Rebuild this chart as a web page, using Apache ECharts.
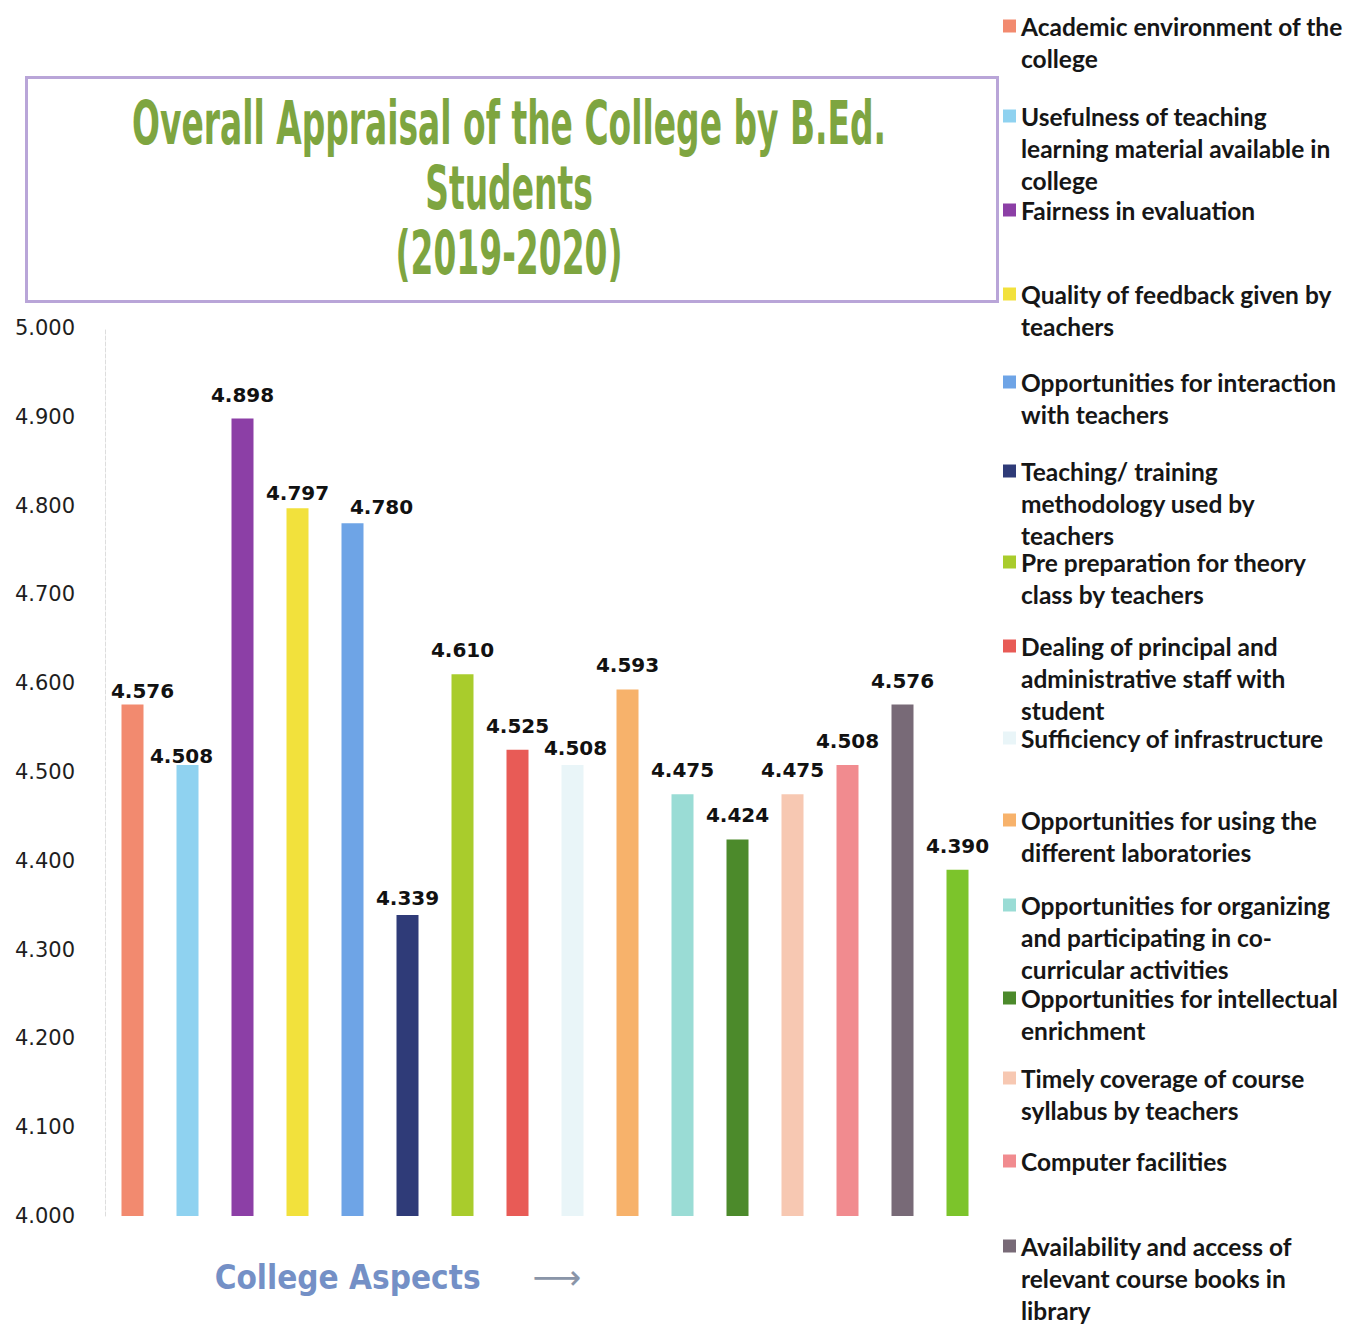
<!DOCTYPE html>
<html>
<head>
<meta charset="utf-8">
<script src="https://cdn.jsdelivr.net/npm/echarts@6/dist/echarts.min.js"></script>
<style>html,body{margin:0;padding:0;background:#fff}#c{width:1371px;height:1325px}</style>
</head>
<body>
<div id="c"></div>
<script>
// ---- data ----
var categories = [
  "Academic environment of the college",
  "Usefulness of teaching learning material available in college",
  "Fairness in evaluation",
  "Quality of feedback given by teachers",
  "Opportunities for interaction with teachers",
  "Teaching/ training methodology used by teachers",
  "Pre preparation for theory class by teachers",
  "Dealing of principal and administrative staff with student",
  "Sufficiency of infrastructure",
  "Opportunities for using the different laboratories",
  "Opportunities for organizing and participating in co-curricular activities",
  "Opportunities for intellectual enrichment",
  "Timely coverage of course syllabus by teachers",
  "Computer facilities",
  "Availability and access of relevant course books in library",
  "Aspect 16"
];
var legendLabels = [
  "Academic environment of the\ncollege",
  "Usefulness of teaching\nlearning material available in\ncollege",
  "Fairness in evaluation",
  "Quality of feedback given by\nteachers",
  "Opportunities for interaction\nwith teachers",
  "Teaching/ training\nmethodology used by\nteachers",
  "Pre preparation for theory\nclass by teachers",
  "Dealing of principal and\nadministrative staff with\nstudent",
  "Sufficiency of infrastructure",
  "Opportunities for using the\ndifferent laboratories",
  "Opportunities for organizing\nand participating in co-\ncurricular activities",
  "Opportunities for intellectual\nenrichment",
  "Timely coverage of course\nsyllabus by teachers",
  "Computer facilities",
  "Availability and access of\nrelevant course books in\nlibrary"
];
var values = [4.576, 4.508, 4.898, 4.797, 4.780, 4.339, 4.610, 4.525, 4.508, 4.593, 4.475, 4.424, 4.475, 4.508, 4.576, 4.390];
var yTicks = ["4.000","4.100","4.200","4.300","4.400","4.500","4.600","4.700","4.800","4.900","5.000"];
var titleText = "Overall Appraisal of the College by B.Ed.\nStudents\n(2019-2020)";
var xAxisTitle = "College Aspects";

// ---- styles ----
var colors = ["#f28a6f","#8fd2f0","#8c3fa6","#f2e13c","#6ea4e6","#2f3b78","#a9cc2c","#e85b56",
              "#e9f5f8","#f7b26b","#9adcd5","#4c8a2b","#f7c8b2","#f18b8f","#786a77","#7cc42b"];
var labelShift = {0: [10, 10], 1: [-6, 15], 3: [0, 9], 4: [29, 8], 5: [0, 7], 8: [3, 7]};
var legendIconY = [26,116,210,294,382,471,562,646,738,820,905,998,1078,1161,1246];
var LH = 32;
var condensed = "'Liberation Sans Narrow','DejaVu Sans Condensed','Roboto Condensed','Arial Narrow',Roboto";

var series = categories.map(function (name, i) {
  return {
    name: name,
    type: 'bar',
    barWidth: 22,
    barGap: '-100%',
    itemStyle: { color: colors[i] },
    label: {
      show: true, position: 'top', distance: 14,
      fontFamily: 'DejaVu Sans', fontWeight: 'bold', fontSize: 20, color: '#111',
      formatter: function (p) { return Number(p.value).toFixed(3); }
    },
    data: values.map(function (v, j) {
      if (j !== i) return '-';
      var item = { value: v };
      if (labelShift[j]) item.label = { offset: labelShift[j] };
      return item;
    })
  };
});

var legends = legendLabels.map(function (lab, i) {
  var n = lab.split('\n').length;
  var H = (2 * n - 1) * LH;
  var shown = new Array(n).join('\n') + lab; // blank lines above so the icon sits on line one
  return {
    data: [categories[i]],
    left: 1003,
    top: legendIconY[i] - H / 2,
    padding: 0,
    itemWidth: 13, itemHeight: 13, icon: 'rect',
    selectedMode: false,
    formatter: function () { return shown; },
    textStyle: {
      fontFamily: 'Lato', fontWeight: 'bold', fontSize: 24.5, color: '#161616',
      lineHeight: LH
    }
  };
});

var chart = echarts.init(document.getElementById('c'), null, { renderer: 'svg' });
chart.setOption({
  animation: false,
  backgroundColor: '#ffffff',
  graphic: [{
    type: 'rect', left: 24, top: 75,
    shape: { width: 971, height: 224 },
    style: { fill: 'none', stroke: '#b9a5d8', lineWidth: 3 },
    z: 0
  }, {
    type: 'text', x: 509, y: 91, scaleX: 0.61,
    style: {
      text: titleText, fontFamily: condensed, fontWeight: 'bold', fontSize: 60,
      lineHeight: 65, fill: '#7ea540', align: 'center', verticalAlign: 'top'
    },
    z: 1
  }],
  legend: legends,
  grid: { left: 105, right: 386, top: 328, bottom: 109 },
  xAxis: {
    type: 'category',
    data: categories,
    axisLine: { show: false }, axisTick: { show: false }, axisLabel: { show: false },
    name: '{a|' + xAxisTitle + '}{b|\u27F6}',
    nameLocation: 'middle', nameGap: 44,
    nameTextStyle: {
      rich: {
        a: { fontFamily: condensed, fontWeight: 'bold', fontSize: 33, color: '#7490c6' },
        b: { fontFamily: 'DejaVu Sans', fontSize: 34, color: '#8a95a8', padding: [0, 0, 0, 52] }
      },
      padding: [0, 294, 0, 0]
    }
  },
  yAxis: {
    type: 'value', min: 4, max: 5, interval: 0.1,
    axisLine: { show: true, lineStyle: { color: '#dddddd', type: 'dashed' } },
    axisTick: { show: false },
    splitLine: { show: false },
    axisLabel: {
      margin: 30, fontFamily: 'DejaVu Sans', fontSize: 21, color: '#1e1e1e',
      formatter: function (v) { return yTicks[Math.round((v - 4) * 10)]; }
    }
  },
  series: series
});
</script>
</body>
</html>
